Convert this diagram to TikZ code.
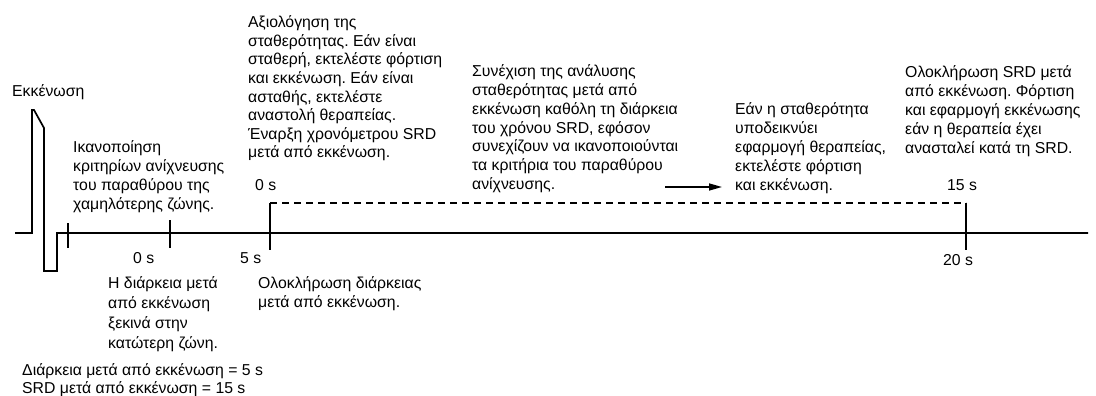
\documentclass[tikz,border=0pt]{standalone}
\usepackage{fontspec}
\setmainfont{Liberation Sans}
\usetikzlibrary{arrows.meta}
\begin{document}
\frenchspacing
\begin{tikzpicture}[x=1pt,y=-1pt,
  txt/.style={anchor=north west,inner sep=0pt,align=left,font=\fontsize{15.8}{19}\selectfont},
  lbl/.style={anchor=base west,inner sep=0pt,font=\fontsize{15.8}{19}\selectfont},
  wave/.style={line width=1.7pt,line join=miter},
  tickline/.style={line width=2pt},
  srdline/.style={line width=1.5pt,dash pattern=on 7pt off 5pt},
  arrowline/.style={line width=1.5pt,-{Triangle[length=13pt,width=7pt]}}]
\useasboundingbox (0,0) rectangle (1096,396);
% axis and pulse
\coordinate (a0) at (15,233);
\coordinate (p1) at (32,233);
\coordinate (p2) at (32,110);
\coordinate (p3) at (34,110);
\coordinate (p4) at (44,128);
\coordinate (p5) at (44,271);
\coordinate (p6) at (57,271);
\coordinate (p7) at (57,233);
\coordinate (aend) at (1088,233);
\draw[wave] (a0) -- (p1) -- (p2) -- (p3) -- (p4) -- (p5) -- (p6) -- (p7) -- (aend);
% ticks
\coordinate (t1a) at (68,223); \coordinate (t1b) at (68,248);
\coordinate (t2a) at (170,220); \coordinate (t2b) at (170,248);
\coordinate (t3a) at (270,203); \coordinate (t3b) at (270,250);
\coordinate (t4a) at (966,203); \coordinate (t4b) at (966,250);
\draw[tickline] (t1a) -- (t1b);
\draw[tickline] (t2a) -- (t2b);
\draw[tickline] (t3a) -- (t3b);
\draw[tickline] (t4a) -- (t4b);
\draw[srdline] (t3a) -- (t4a);
% arrow
\coordinate (ar0) at (665,187);
\coordinate (ar1) at (722,187);
\draw[arrowline] (ar0) -- (ar1);
% texts
\node[lbl] (ekk) at (12,96) {Εκκένωση};
\node[txt] (ikan) at (73,139.5) {\rule{0pt}{12.5pt}Ικανοποίηση\\κριτηρίων ανίχνευσης\\του παραθύρου της\\χαμηλότερης ζώνης.};
\node[txt,font=\fontsize{15.8}{18.6}\selectfont] (axio) at (248,15) {\rule{0pt}{12.5pt}Αξιολόγηση της\\σταθερότητας. Εάν είναι\\σταθερή, εκτελέστε φόρτιση\\και εκκένωση. Εάν είναι\\ασταθής, εκτελέστε\\αναστολή θεραπείας.\\Έναρξη χρονόμετρου SRD\\μετά από εκκένωση.};
\node[txt,font=\fontsize{15.8}{18.8}\selectfont] (syne) at (472,64) {\rule{0pt}{12.5pt}Συνέχιση της ανάλυσης\\σταθερότητας μετά από\\εκκένωση καθόλη τη διάρκεια\\του χρόνου SRD, εφόσον\\συνεχίζουν να ικανοποιούνται\\τα κριτήρια του παραθύρου\\ανίχνευσης.};
\node[txt] (ean) at (735,102) {\rule{0pt}{12.5pt}Εάν η σταθερότητα\\υποδεικνύει\\εφαρμογή θεραπείας,\\εκτελέστε φόρτιση\\και εκκένωση.};
\node[txt] (olok) at (905,65) {\rule{0pt}{12.5pt}Ολοκλήρωση SRD μετά\\από εκκένωση. Φόρτιση\\και εφαρμογή εκκένωσης\\εάν η θεραπεία έχει\\ανασταλεί κατά τη SRD.};
\node[lbl] (z0top) at (255,190) {0 s};
\node[lbl] (s15) at (947,190) {15 s};
\node[lbl] (z0) at (133,263) {0 s};
\node[lbl] (s5) at (240,263) {5 s};
\node[lbl] (s20) at (943,265) {20 s};
\node[txt,font=\fontsize{15.8}{20}\selectfont] (diar) at (108,276) {\rule{0pt}{12.5pt}Η διάρκεια μετά\\από εκκένωση\\ξεκινά στην\\κατώτερη ζώνη.};
\node[txt] (olokd) at (258,276) {\rule{0pt}{12.5pt}Ολοκλήρωση διάρκειας\\μετά από εκκένωση.};
\node[txt,font=\fontsize{15.8}{18}\selectfont] (summ) at (22,363) {\rule{0pt}{12.5pt}Διάρκεια μετά από εκκένωση = 5 s\\SRD μετά από εκκένωση = 15 s};
\end{tikzpicture}
\end{document}
